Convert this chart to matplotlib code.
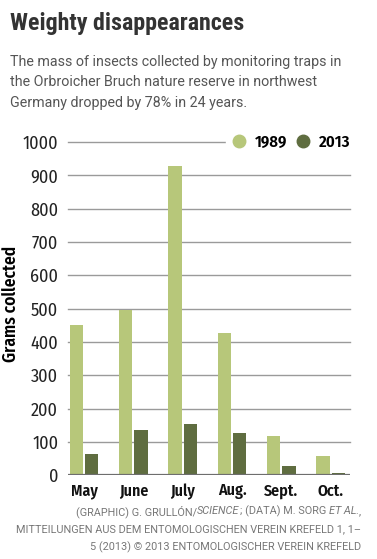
import os
import matplotlib
matplotlib.use("Agg")
import matplotlib.pyplot as plt
from matplotlib import font_manager
import numpy as np
from matplotlib.lines import Line2D

months = ["May", "June", "July", "Aug.", "Sept.", "Oct."]
mass_1989 = [450, 497, 928, 428, 117, 58]
mass_2013 = [62, 137, 155, 128, 28, 7]
yticks = [0, 100, 200, 300, 400, 500, 600, 700, 800, 900, 1000]

light = "#b7c77a"
dark = "#5f6d40"

FILES = {os.path.basename(f.fname): f.fname for f in font_manager.fontManager.ttflist}


def pick(cands, size, fallback):
    # first font file that is installed, else a plain family
    for c in cands:
        if c in FILES:
            return font_manager.FontProperties(fname=FILES[c], size=size)
    return font_manager.FontProperties(size=size, **fallback)


def cond_bold(size):
    return pick(["ArchivoNarrow-Bold.ttf", "PTSansNarrow-Bold.ttf",
                 "FiraSansCondensed-SemiBold.ttf", "BarlowSemiCondensed-SemiBold.ttf",
                 "IBMPlexSansCondensed-Bold.ttf"], size,
                {"family": "DejaVu Sans", "weight": "bold"})


def cond_reg(size):
    return pick(["ArchivoNarrow-Regular.ttf", "PTSansNarrow-Regular.ttf",
                 "FiraSansCondensed-Regular.ttf", "BarlowSemiCondensed-Regular.ttf",
                 "IBMPlexSansCondensed-Regular.ttf"], size,
                {"family": "DejaVu Sans"})


fig = plt.figure(figsize=(3.77, 5.59), dpi=100)
ax = fig.add_axes([0.180, 0.150, 0.748, 0.596])

x = np.arange(len(months))
w = 0.27
ax.bar(x - w / 2 - 0.02, mass_1989, width=w, color=light, zorder=3)
ax.bar(x + w / 2 + 0.02, mass_2013, width=w, color=dark, zorder=3)

ax.set_xlim(-0.33, 5.39)
ax.set_ylim(0, 1000)
ax.set_yticks(yticks)
ax.set_yticklabels([str(t) for t in yticks], color="#222222")
ax.set_xticks(x)
ax.set_xticklabels(months, color="#111111")
for lab in ax.get_yticklabels():
    lab.set_fontproperties(cond_reg(13))
for lab in ax.get_xticklabels():
    lab.set_fontproperties(cond_bold(11.5))
ax.tick_params(axis="both", length=0)
ax.tick_params(axis="y", pad=7)
ax.tick_params(axis="x", pad=6)
for s in ax.spines.values():
    s.set_visible(False)
for t in yticks[1:]:
    ax.axhline(t, color="#9a9a9a", lw=1.0, zorder=1, clip_on=False)
ax.axhline(0, color="#6e6e6e", lw=1.6, zorder=4)

ax.set_ylabel("Grams collected", fontproperties=cond_bold(12.5))
ax.yaxis.set_label_coords(-0.17, 0.515)

handles = [
    Line2D([], [], marker="o", ls="", ms=9, color=light, label="1989"),
    Line2D([], [], marker="o", ls="", ms=9, color=dark, label="2013"),
]
leg = ax.legend(handles=handles, loc="center right", bbox_to_anchor=(1.015, 1.0),
                ncol=2, frameon=True, handlelength=1.0, handletextpad=0.45,
                columnspacing=0.45, borderpad=0.25, borderaxespad=0,
                prop=cond_bold(12))
leg.get_frame().set_facecolor("white")
leg.get_frame().set_edgecolor("white")
leg.get_frame().set_alpha(1)
leg.set_zorder(5)

title_fp = pick(["RobotoCondensed-Bold.ttf"], 17.3, {"family": "Roboto", "weight": "bold"})
fig.text(0.027, 0.958, "Weighty disappearances", fontproperties=title_fp,
         color="#333333", va="center")
sub = ("The mass of insects collected by monitoring traps in\n"
       "the Orbroicher Bruch nature reserve in northwest\n"
       "Germany dropped by 78% in 24 years.")
fig.text(0.027, 0.853, sub, family="Roboto", fontsize=10.3, color="#555555",
         va="center", linespacing=1.58)

# credit lines, right aligned, with italic pieces
credit = [
    [("(GRAPHIC) G. GRULLÓN/", "normal"), ("SCIENCE", "italic"),
     ("; (DATA) M. SORG ", "normal"), ("ET AL.", "italic"), (",", "normal")],
    [("MITTEILUNGEN AUS DEM ENTOMOLOGISCHEN VEREIN KREFELD 1, 1–", "normal")],
    [("5 (2013) © 2013 ENTOMOLOGISCHER VEREIN KREFELD", "normal")],
]
fig.canvas.draw()
renderer = fig.canvas.get_renderer()
xr = 0.957
for i, line in enumerate(credit):
    yy = 0.085 - i * 0.032
    xpos = xr
    for txt, style in reversed(line):
        t = fig.text(xpos, yy, txt, family="Roboto", fontsize=7.85, style=style,
                     color="#777777", ha="right", va="center")
        bb = t.get_window_extent(renderer)
        xpos -= bb.width / fig.bbox.width

fig.savefig("out.png", dpi=100)
